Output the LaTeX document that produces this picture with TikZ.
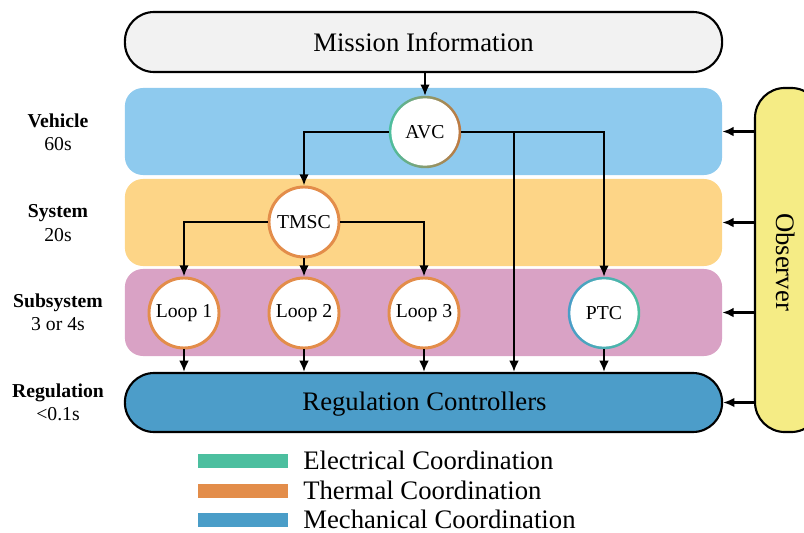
\documentclass[tikz,border=0pt]{standalone}
\usepackage{fontspec}
\setmainfont{Liberation Serif}
\usetikzlibrary{arrows.meta}

\definecolor{missionfill}{HTML}{F2F2F2}
\definecolor{vehfill}{HTML}{8ECAEE}
\definecolor{sysfill}{HTML}{FDD587}
\definecolor{subfill}{HTML}{D9A2C5}
\definecolor{regfill}{HTML}{4C9DC9}
\definecolor{obsfill}{HTML}{F5EC85}
\definecolor{elec}{HTML}{4CBF9F}
\definecolor{thermal}{HTML}{E38D4A}
\definecolor{mech}{HTML}{4A9DC8}

\begin{document}
\begin{tikzpicture}[x=0.025cm, y=-0.025cm]
    \useasboundingbox (0,0) rectangle (804,533);

    % Styles
    \tikzset{
        band/.style={rounded corners=0.45cm, minimum width=14.925cm, minimum height=2.175cm, inner sep=0},
        pill/.style={draw=black, line width=1.5pt, rounded corners=0.73cm, minimum width=14.925cm, minimum height=1.5cm, font=\fontsize{19}{22}\selectfont},
        ctrl/.style={circle, fill=white, draw=thermal, line width=2.1pt, minimum size=1.75cm, inner sep=0, font=\fontsize{14}{16}\selectfont},
        ring/.style={circle, fill=white, minimum size=1.68cm, inner sep=0, outer sep=0.065cm, font=\fontsize{14}{16}\selectfont},
        arr/.style={-{Latex[length=2.8mm,width=2.4mm]}, line width=1.5pt},
        lvl/.style={align=center, font=\fontsize{14}{16.5}\selectfont},
        key/.style={minimum width=2.25cm, minimum height=0.36cm, inner sep=0},
        keytext/.style={anchor=west, inner sep=0, font=\fontsize{19}{22}\selectfont}
    }

    % Layer bands
    \node[band, fill=vehfill] (veh) at (423.5,131.5) {};
    \node[band, fill=sysfill] (sys) at (423.5,222.5) {};
    \node[band, fill=subfill] (sub) at (423.5,312.5) {};

    % Mission and regulation
    \node[pill, fill=missionfill] (mission) at (423.5,42) {Mission Information};
    \node[pill, fill=regfill, minimum height=1.475cm] (reg) at (423.5,402.5) {};
    \node[font=\fontsize{19}{22}\selectfont] (regtext) at (424.5,404) {Regulation Controllers};

    % Observer
    \node[draw=black, line width=1.5pt, fill=obsfill, rounded corners=0.75cm,
          minimum width=1.65cm, minimum height=8.6cm] (obs) at (788,260) {};
    \node[rotate=-90, font=\fontsize{19}{22}\selectfont] (obstext) at (786,262) {Observer};

    % Controllers
    \coordinate (avcc) at (425,132);
    \shade[left color=elec, middle color=mech, right color=thermal!85!black] (avcc) circle (0.905cm);
    \node[ring] (avc) at (avcc) {AVC};
    \node[ctrl] (tmsc) at (304,222) {TMSC};
    \node[ctrl] (l1) at (184,313) {Loop 1};
    \node[ctrl] (l2) at (304,313) {Loop 2};
    \node[ctrl] (l3) at (424,313) {Loop 3};
    \coordinate (ptcc) at (604,313);
    \shade[left color=mech, right color=elec] (ptcc) circle (0.905cm);
    \node[ring] (ptc) at (ptcc) {PTC};

    % Connections
    \draw[arr] (avc.north |- mission.south) -- (avc.north);
    \draw[arr] (avc.west) -| (tmsc.north);
    \draw[arr] (avc.east) -| (ptc.north);
    \coordinate (br) at (514,132);
    \draw[arr] (br) -- (br |- reg.north);
    \draw[arr] (tmsc.west) -| (l1.north);
    \draw[arr] (tmsc.south) -- (l2.north);
    \draw[arr] (tmsc.east) -| (l3.north);
    \foreach \n in {l1,l2,l3,ptc} {
        \draw[arr] (\n.south) -- (\n.south |- reg.north);
    }
    \foreach \n in {veh,sys,sub,reg} {
        \draw[arr] (\n.east -| obs.west) -- (\n.east);
    }

    % Level labels
    \node[lvl] (lveh) at (58,132) {\textbf{Vehicle}\\60s};
    \node[lvl] (lsys) at (58,223) {\textbf{System}\\20s};
    \node[lvl] (lsub) at (58,312) {\textbf{Subsystem}\\3 or 4s};
    \node[lvl] (lreg) at (58,402) {\textbf{Regulation}\\<0.1s};

    % Legend
    \node[key, fill=elec] (kelec) at (243,461) {};
    \node[key, fill=thermal] (ktherm) at (243,491) {};
    \node[key, fill=mech] (kmech) at (243,520) {};
    \node[keytext] (telec) at (303,460) {Electrical Coordination};
    \node[keytext] (ttherm) at (303,490) {Thermal Coordination};
    \node[keytext] (tmech) at (303,519) {Mechanical Coordination};
\end{tikzpicture}
\end{document}
